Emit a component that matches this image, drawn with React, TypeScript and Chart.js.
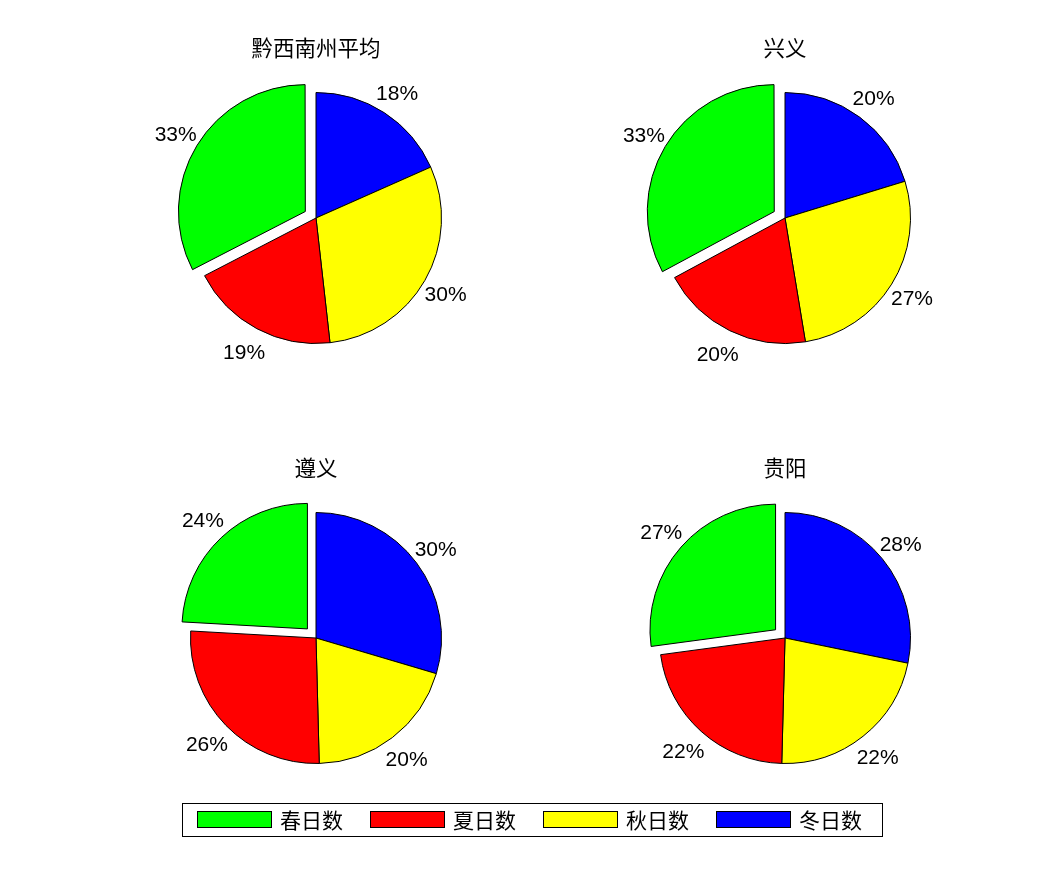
import { useEffect, useRef } from "react";
import { Chart, registerables } from "chart.js";

Chart.register(...registerables);

// seasons, in legend order (spring, summer, autumn, winter)
const seasons = ["春日数", "夏日数", "秋日数", "冬日数"];
const seasonColors = ["#00ff00", "#ff0000", "#ffff00", "#0000ff"];

// number of days in each season per region (365 days total)
const qianxinanDays = [119, 70, 109, 67];
const xingyiDays = [120, 72, 99, 74];
const zunyiDays = [88, 96, 73, 108];
const guiyangDays = [99, 82, 81, 103];

const CJK_FONT = '"Noto Sans CJK SC", "Noto Sans", sans-serif';
const EXPLODE = 50; // chart.js shifts an arc by offset / 4

// percentage text at 1.2 x radius, like MATLAB's pie()
const percentLabels = {
  id: "percentLabels",
  afterDatasetsDraw(chart: Chart) {
    const ctx = chart.ctx;
    const meta = chart.getDatasetMeta(0);
    const values = chart.data.datasets[0].data as number[];
    const total = values.reduce((a, b) => a + b, 0);
    ctx.save();
    ctx.font = '21px "Liberation Sans", Arial, sans-serif';
    ctx.fillStyle = "#000";
    ctx.textAlign = "center";
    ctx.textBaseline = "alphabetic";
    meta.data.forEach((arc: any, i: number) => {
      const { x, y, startAngle, endAngle, outerRadius } = arc.getProps(
        ["x", "y", "startAngle", "endAngle", "outerRadius"],
        true
      );
      const mid = (startAngle + endAngle) / 2;
      const shift = (arc.options.offset || 0) / 4;
      const r = outerRadius * 1.2 + shift;
      const pct = Math.round((values[i] / total) * 100) + "%";
      // baseline so the digits sit centred on the anchor point
      ctx.fillText(pct, x + Math.cos(mid) * r - 1, y + Math.sin(mid) * r + 8);
    });
    ctx.restore();
  },
};

interface PieProps {
  title: string;
  days: number[];
  cx: number;
  cy: number;
}

const SeasonPie = ({ title, days, cx, cy }: PieProps) => {
  const canvasRef = useRef<HTMLCanvasElement>(null);

  useEffect(() => {
    const ctx = canvasRef.current?.getContext("2d");
    if (!ctx) return;

    // chart.js goes clockwise, MATLAB counter-clockwise: reverse the order
    const order = [3, 2, 1, 0];
    const offsets = order.map((i) => (i === 0 ? EXPLODE : 0));

    const chart = new Chart(ctx, {
      type: "pie",
      data: {
        labels: order.map((i) => seasons[i]),
        datasets: [
          {
            data: order.map((i) => days[i]),
            backgroundColor: order.map((i) => seasonColors[i]),
            borderColor: "#000000",
            borderWidth: 1,
            hoverBorderWidth: 1,
            offset: offsets,
            hoverOffset: offsets,
          },
        ],
      },
      options: {
        animation: false,
        responsive: true,
        maintainAspectRatio: false,
        events: [],
        layout: { padding: 49 },
        plugins: {
          legend: { display: false },
          tooltip: { enabled: false },
        },
      },
      plugins: [percentLabels],
    });

    return () => {
      chart.destroy();
    };
  }, [days]);

  return (
    <>
      <div
        style={{
          position: "absolute",
          left: cx - 200,
          top: cy - 200,
          width: 400,
          height: 400,
        }}
      >
        <canvas ref={canvasRef}></canvas>
      </div>
      <div
        style={{
          position: "absolute",
          left: cx - 150,
          top: cy - 170 - 12,
          width: 300,
          textAlign: "center",
          fontFamily: CJK_FONT,
          fontSize: 21.5,
          lineHeight: "22px",
          color: "#000",
        }}
      >
        {title}
      </div>
    </>
  );
};

const App = () => {
  return (
    <div
      style={{
        position: "absolute",
        left: 0,
        top: 0,
        width: 1064,
        height: 887,
        background: "#ffffff",
      }}
    >
      <SeasonPie title="黔西南州平均" days={qianxinanDays} cx={316} cy={217.5} />
      <SeasonPie title="兴义" days={xingyiDays} cx={785} cy={217.5} />
      <SeasonPie title="遵义" days={zunyiDays} cx={316} cy={637.5} />
      <SeasonPie title="贵阳" days={guiyangDays} cx={785} cy={637.5} />

      {/* shared legend */}
      <div
        style={{
          position: "absolute",
          left: 182,
          top: 803,
          width: 699,
          height: 32,
          border: "1px solid #000",
          fontFamily: CJK_FONT,
          fontSize: 21,
        }}
      >
        {seasons.map((name, i) => (
          <div key={name}>
            <div
              style={{
                position: "absolute",
                left: 14 + 173 * i,
                top: 7,
                width: 73,
                height: 15,
                background: seasonColors[i],
                border: "1px solid #000",
              }}
            />
            <div
              style={{
                position: "absolute",
                left: 97 + 173 * i,
                top: 3,
                lineHeight: "24px",
                whiteSpace: "nowrap",
              }}
            >
              {name}
            </div>
          </div>
        ))}
      </div>
    </div>
  );
};

export default App;
